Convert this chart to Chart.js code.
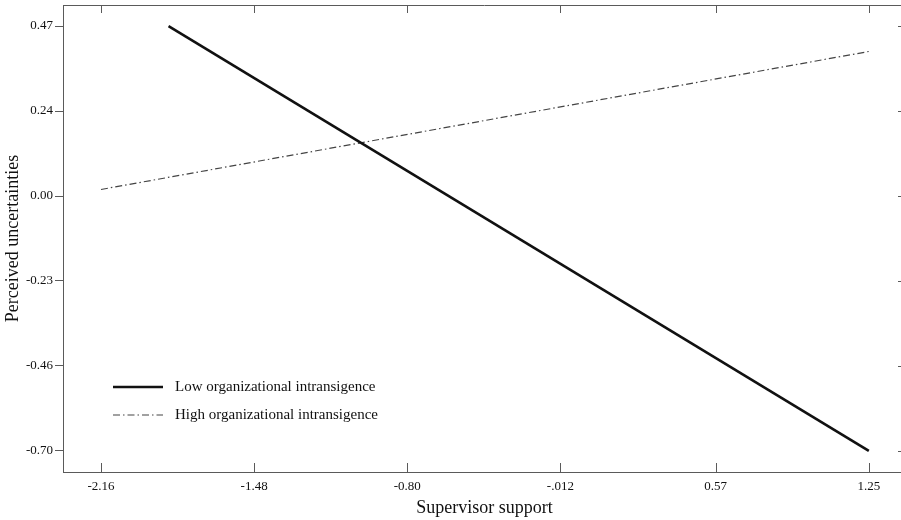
<!DOCTYPE html>
<html>
<head>
<meta charset="utf-8">
<script src="https://cdn.jsdelivr.net/npm/chart.js@4/dist/chart.umd.min.js"></script>
<style>
  html, body { margin: 0; padding: 0; background: #fff; overflow: hidden; }
  canvas { display: block; }
</style>
</head>
<body>
<canvas id="chart" width="910" height="520"></canvas>
<script>
// series
var seriesNames = ["Low organizational intransigence", "High organizational intransigence"];
var lowX = [-1.86, 1.25];
var lowY = [0.47, -0.70];
var highX = [-2.16, 1.25];
var highY = [0.02, 0.40];

// axes
var xTickValues = [-2.16, -1.48, -0.80, -0.12, 0.57, 1.25];
var xTickLabels = ["-2.16", "-1.48", "-0.80", "-.012", "0.57", "1.25"];
var yTickValues = [0.47, 0.236, 0.002, -0.232, -0.466, -0.70];
var yTickLabels = ["0.47", "0.24", "0.00", "-0.23", "-0.46", "-0.70"];

var serif = "'Liberation Serif', 'Times New Roman', serif";
var axisColor = "#5a5a5a";

function toPoints(xs, ys) {
  return xs.map(function (x, i) { return { x: x, y: ys[i] }; });
}

// closes the frame and draws the inward tick marks
var frame = {
  id: "frame",
  afterDraw: function (chart) {
    var ctx = chart.ctx, a = chart.chartArea;
    var xs = chart.scales.x, ys = chart.scales.y;
    ctx.save();
    ctx.strokeStyle = axisColor;
    ctx.lineWidth = 1;
    ctx.beginPath();
    ctx.moveTo(a.left, a.top + 0.5);
    ctx.lineTo(a.right, a.top + 0.5);
    ctx.moveTo(a.right - 0.5, a.top);
    ctx.lineTo(a.right - 0.5, a.bottom);
    xTickValues.forEach(function (v) {
      var px = Math.round(xs.getPixelForValue(v)) + 0.5;
      ctx.moveTo(px, a.bottom);
      ctx.lineTo(px, a.bottom - 9);
      ctx.moveTo(px, a.top);
      ctx.lineTo(px, a.top + 8);
    });
    yTickValues.forEach(function (v) {
      var py = Math.round(ys.getPixelForValue(v)) + 0.5;
      ctx.moveTo(a.right, py);
      ctx.lineTo(a.right - 8, py);
    });
    ctx.stroke();
    ctx.restore();
  }
};

// legend inside the plot, lower left
var innerLegend = {
  id: "innerLegend",
  afterDatasetsDraw: function (chart) {
    var ctx = chart.ctx, a = chart.chartArea;
    var x0 = a.left + 50, x1 = a.left + 100, tx = a.left + 112;
    var rows = [387, 415];
    ctx.save();
    ctx.font = "15px " + serif;
    ctx.textBaseline = "middle";
    ctx.fillStyle = "#111";
    chart.data.datasets.forEach(function (ds, i) {
      ctx.beginPath();
      ctx.strokeStyle = ds.borderColor;
      ctx.lineWidth = ds.borderWidth;
      ctx.setLineDash(ds.borderDash || []);
      ctx.moveTo(x0, rows[i]);
      ctx.lineTo(x1, rows[i]);
      ctx.stroke();
      ctx.fillText(ds.label, tx, rows[i]);
    });
    ctx.restore();
  }
};

new Chart(document.getElementById("chart"), {
  type: "line",
  data: {
    datasets: [
      {
        label: seriesNames[0],
        data: toPoints(lowX, lowY),
        borderColor: "#111",
        borderWidth: 2.6,
        pointRadius: 0,
        fill: false
      },
      {
        label: seriesNames[1],
        data: toPoints(highX, highY),
        borderColor: "#444",
        borderWidth: 1.2,
        borderDash: [7, 3, 1.5, 3],
        pointRadius: 0,
        fill: false
      }
    ]
  },
  options: {
    responsive: false,
    animation: false,
    layout: { padding: { top: 5, right: 4, left: 0, bottom: 0 } },
    plugins: {
      legend: { display: false },
      tooltip: { enabled: false }
    },
    scales: {
      x: {
        type: "linear",
        min: -2.3287,
        max: 1.415,
        afterBuildTicks: function (scale) {
          scale.ticks = xTickValues.map(function (v) { return { value: v }; });
        },
        afterFit: function (scale) {
          scale.height = 48;
          scale.paddingLeft = 0;
          scale.paddingRight = 0;
        },
        ticks: {
          autoSkip: false,
          maxRotation: 0,
          padding: 7,
          color: "#111",
          font: { family: serif, size: 13 },
          callback: function (v, i) { return xTickLabels[i]; }
        },
        grid: { display: true, drawOnChartArea: false, drawTicks: false },
        border: { display: true, color: axisColor, width: 1 },
        title: {
          display: true,
          text: "Supervisor support",
          color: "#111",
          font: { family: serif, size: 18 },
          padding: { top: 0, bottom: 1 }
        }
      },
      y: {
        type: "linear",
        min: -0.758,
        max: 0.528,
        afterBuildTicks: function (scale) {
          scale.ticks = yTickValues.map(function (v) { return { value: v }; });
        },
        afterFit: function (scale) {
          scale.width = 63;
          scale.paddingTop = 0;
          scale.paddingBottom = 0;
        },
        ticks: {
          autoSkip: false,
          padding: 2,
          color: "#111",
          font: { family: serif, size: 13 },
          callback: function (v, i) { return yTickLabels[i]; }
        },
        grid: {
          display: true,
          drawOnChartArea: false,
          drawTicks: true,
          tickLength: 8,
          color: axisColor
        },
        border: { display: true, color: axisColor, width: 1 },
        title: {
          display: true,
          text: "Perceived uncertainties",
          color: "#111",
          font: { family: serif, size: 18 },
          padding: { top: 2, bottom: 0 }
        }
      }
    }
  },
  plugins: [frame, innerLegend]
});
</script>
</body>
</html>
